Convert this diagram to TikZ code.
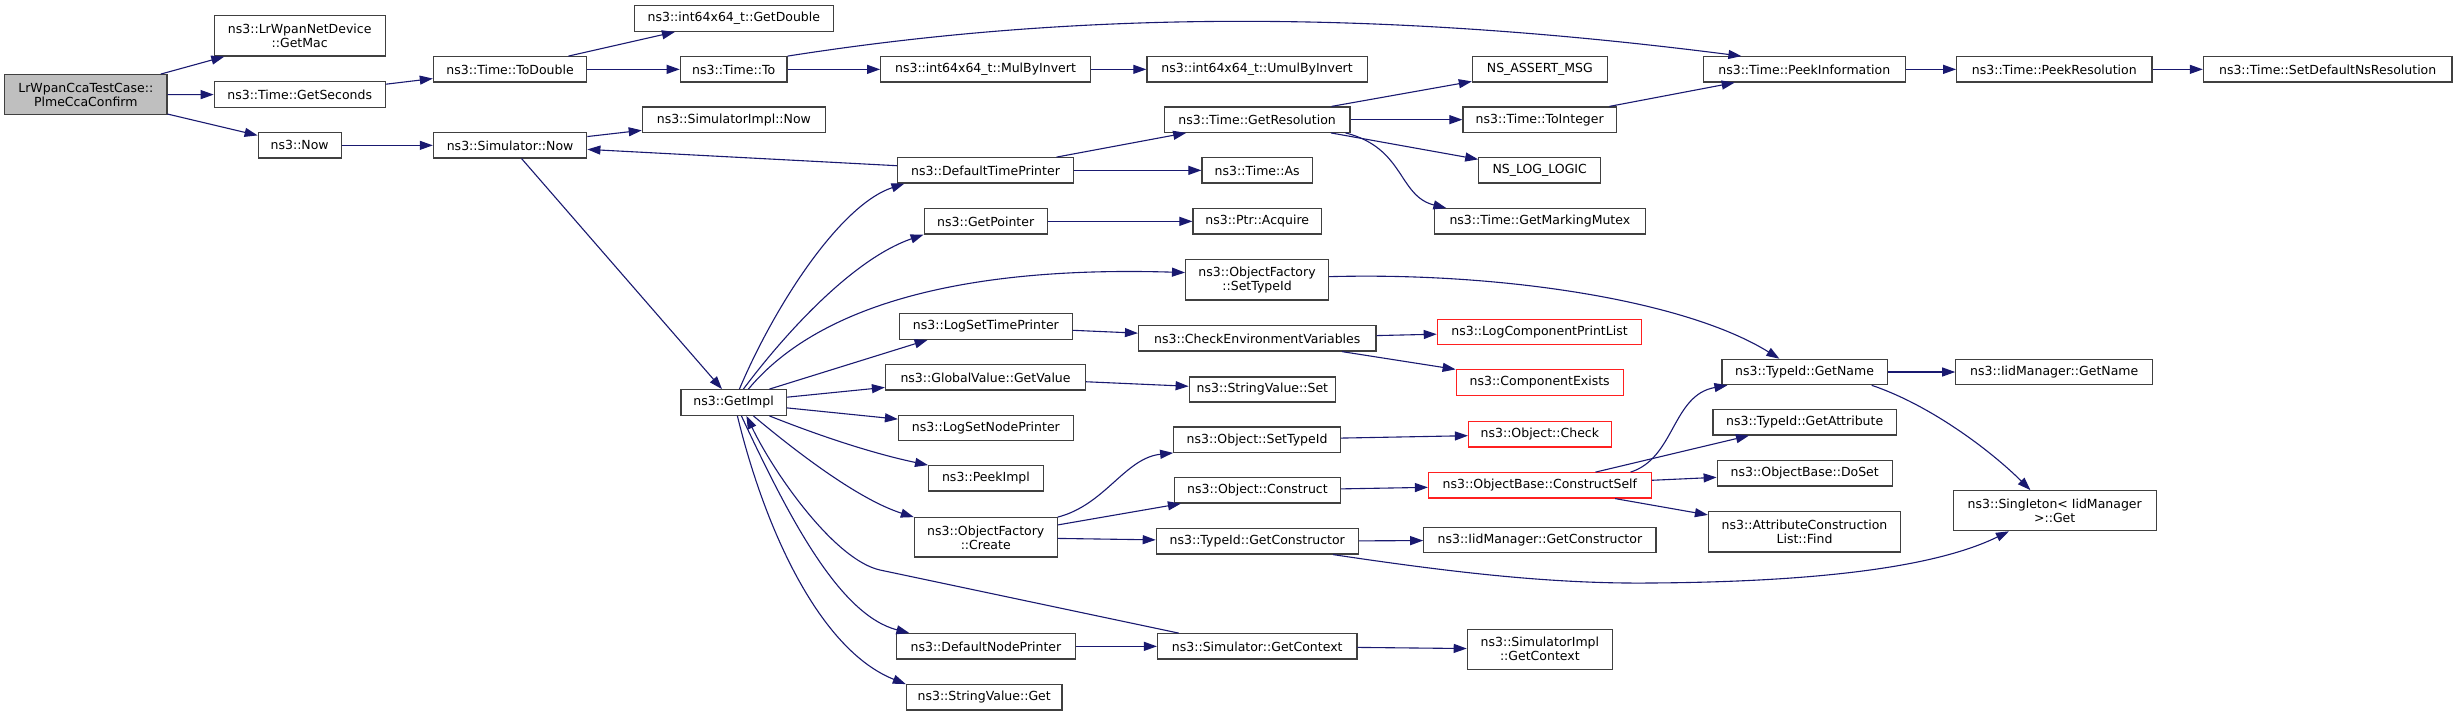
\documentclass[tikz,border=0pt]{standalone}
\usepackage{fontspec}
\setmainfont{DejaVu Sans}
\usetikzlibrary{arrows.meta,calc}
\definecolor{edgeblue}{HTML}{191970}
\definecolor{boxgray}{HTML}{404040}
\definecolor{rootfill}{HTML}{BFBFBF}
\definecolor{boxred}{HTML}{FF2020}
\tikzset{
  box/.style={draw=boxgray, line width=1.2pt, fill=white, inner sep=0pt, align=center,
    font=\fontsize{12.5}{14}\selectfont, text=black},
  redbox/.style={draw=boxred},
  edge/.style={draw=edgeblue, line width=1.1pt, -{Triangle[length=13pt,width=9pt]}},
}
\newcommand\mkbox[7][]{\node[box,#1,minimum width={#4-#2},minimum height={#5-#3}] (#6) at ({(#2+#4)/2},{(#3+#5)/2}) {#7};}
\begin{document}
\begin{tikzpicture}[x=1pt,y=-1pt]
\useasboundingbox[fill=white] (0,0) rectangle (2457,716);
% nodes
\mkbox[fill=rootfill]{4.7}{74.7}{166.9}{114.7}{root}{LrWpanCcaTestCase::\\PlmeCcaConfirm}
\mkbox{214.3}{15.7}{385.1}{56}{getmac}{ns3::LrWpanNetDevice\\::GetMac}
\mkbox{214.3}{81.7}{385.1}{107.3}{getsec}{ns3::Time::GetSeconds}
\mkbox{258.2}{132.7}{341.2}{158}{now}{ns3::Now}
\mkbox{433.4}{56.7}{586.8}{82}{todouble}{ns3::Time::ToDouble}
\mkbox{433.4}{132.7}{586.8}{158}{simnow}{ns3::Simulator::Now}
\mkbox{634.4}{5.7}{833.3}{31.3}{getdouble}{ns3::int64x64\_t::GetDouble}
\mkbox{680.3}{56.7}{787}{82}{timeto}{ns3::Time::To}
\mkbox{880.7}{56.7}{1090.3}{82}{mulby}{ns3::int64x64\_t::MulByInvert}
\mkbox{1146.9}{56.7}{1367.3}{82}{umulby}{ns3::int64x64\_t::UmulByInvert}
\mkbox{642.3}{107}{825.4}{132.7}{simimplnow}{ns3::SimulatorImpl::Now}
\mkbox{897.4}{157.7}{1073.7}{183}{deftime}{ns3::DefaultTimePrinter}
\mkbox{924.2}{208.7}{1047.2}{234}{getpointer}{ns3::GetPointer}
\mkbox{899.7}{313.7}{1072.1}{339.3}{logsettime}{ns3::LogSetTimePrinter}
\mkbox{1185.6}{259.7}{1328.5}{300}{ofsettypeid}{ns3::ObjectFactory\\::SetTypeId}
\mkbox{1138.5}{325.7}{1376}{351}{checkenv}{ns3::CheckEnvironmentVariables}
\mkbox{1164.3}{107}{1349.9}{132.3}{getres}{ns3::Time::GetResolution}
\mkbox{1202}{157.7}{1312.3}{183}{timeas}{ns3::Time::As}
\mkbox{1193}{208.7}{1321.4}{234}{ptracq}{ns3::Ptr::Acquire}
\mkbox{1472.4}{56.7}{1607.3}{82}{nsassert}{NS\_ASSERT\_MSG}
\mkbox{1463}{107}{1616.4}{132.3}{tointeger}{ns3::Time::ToInteger}
\mkbox{1478.8}{157.7}{1600.6}{183}{nsloglogic}{NS\_LOG\_LOGIC}
\mkbox{1434.5}{208.7}{1645.2}{234}{markmutex}{ns3::Time::GetMarkingMutex}
\mkbox[redbox]{1437.3}{319.3}{1641.7}{344.3}{logcomp}{ns3::LogComponentPrintList}
\mkbox{1703.4}{56.7}{1905.2}{82}{peekinfo}{ns3::Time::PeekInformation}
\mkbox{1956.7}{56.7}{2151.9}{82}{peekres}{ns3::Time::PeekResolution}
\mkbox{2203.4}{56.7}{2451.9}{82}{setdefns}{ns3::Time::SetDefaultNsResolution}
\mkbox{681}{389.7}{786.2}{415.3}{getimpl}{ns3::GetImpl}
\mkbox{885.5}{364.7}{1085.6}{390}{getvalue}{ns3::GlobalValue::GetValue}
\mkbox{898.5}{415.3}{1073.3}{440.7}{logsetnode}{ns3::LogSetNodePrinter}
\mkbox{928.6}{465.7}{1043.3}{491}{peekimpl}{ns3::PeekImpl}
\mkbox{914.4}{517.7}{1057.1}{557}{ofcreate}{ns3::ObjectFactory\\::Create}
\mkbox{896.6}{633.7}{1075.3}{659}{defnode}{ns3::DefaultNodePrinter}
\mkbox{906.4}{684.7}{1062}{710}{strget}{ns3::StringValue::Get}
\mkbox{1189.2}{377}{1335.6}{402}{strset}{ns3::StringValue::Set}
\mkbox{1173.7}{427}{1340.4}{452.3}{objsettypeid}{ns3::Object::SetTypeId}
\mkbox{1174.5}{477.7}{1340.4}{503}{objconstruct}{ns3::Object::Construct}
\mkbox{1156.3}{528.7}{1358.2}{554}{getctor}{ns3::TypeId::GetConstructor}
\mkbox{1157.5}{633.7}{1357}{659}{simgetctx}{ns3::Simulator::GetContext}
\mkbox[redbox]{1456.2}{369.7}{1623.1}{395.3}{compexists}{ns3::ComponentExists}
\mkbox[redbox]{1468.5}{421.7}{1611.2}{447}{objcheck}{ns3::Object::Check}
\mkbox[redbox]{1428.5}{472.7}{1651.2}{498}{cself}{ns3::ObjectBase::ConstructSelf}
\mkbox{1423.8}{527.3}{1655.9}{552.7}{iidgetctor}{ns3::IidManager::GetConstructor}
\mkbox{1467.3}{629.3}{1612.4}{669.3}{simimplctx}{ns3::SimulatorImpl\\::GetContext}
\mkbox{1722}{359.3}{1887.1}{384.7}{tidgetname}{ns3::TypeId::GetName}
\mkbox{1712.9}{409.7}{1896.4}{435}{getattr}{ns3::TypeId::GetAttribute}
\mkbox{1717.2}{460.7}{1892.2}{486}{doset}{ns3::ObjectBase::DoSet}
\mkbox{1708.5}{511.7}{1900.5}{552}{attrfind}{ns3::AttributeConstruction\\List::Find}
\mkbox{1955.8}{359.3}{2152.7}{384.7}{iidgetname}{ns3::IidManager::GetName}
\mkbox{1953.3}{490.7}{2156.1}{530.7}{singleton}{ns3::Singleton< IidManager\\>::Get}
% straight edges
\draw[edge] (root) -- (getmac);
\draw[edge] (root) -- (getsec);
\draw[edge] (root) -- (now);
\draw[edge] (getsec) -- (todouble);
\draw[edge] (todouble) -- (getdouble);
\draw[edge] (todouble) -- (timeto);
\draw[edge] (timeto) -- (mulby);
\draw[edge] (mulby) -- (umulby);
\draw[edge] (now) -- (simnow);
\draw[edge] (simnow) -- (simimplnow);
\draw[edge] (simnow) -- (getimpl);
\draw[edge] (deftime) -- (simnow);
\draw[edge] (deftime) -- (getres);
\draw[edge] (deftime) -- (timeas);
\draw[edge] (getres) -- (nsassert);
\draw[edge] (getres) -- (tointeger);
\draw[edge] (getres) -- (nsloglogic);
\draw[edge] (tointeger) -- (peekinfo);
\draw[edge] (peekinfo) -- (peekres);
\draw[edge] (peekres) -- (setdefns);
\draw[edge] (getpointer) -- (ptracq);
\draw[edge] (logsettime) -- (checkenv);
\draw[edge] (checkenv) -- (logcomp);
\draw[edge] (checkenv) -- (compexists);
\draw[edge] (getimpl) -- (getvalue);
\draw[edge] (getvalue) -- (strset);
\draw[edge] (getimpl) -- (logsetnode);
\draw[edge] (ofcreate) -- (objconstruct);
\draw[edge] (ofcreate) -- (getctor);
\draw[edge] (objsettypeid) -- (objcheck);
\draw[edge] (objconstruct) -- (cself);
\draw[edge] (cself) -- (getattr);
\draw[edge] (cself) -- (doset);
\draw[edge] (cself) -- (attrfind);
\draw[edge] (tidgetname) -- (iidgetname);
\draw[edge] (getctor) -- (iidgetctor);
\draw[edge] (defnode) -- (simgetctx);
\draw[edge] (simgetctx) -- (simimplctx);
% curved / offset edges
\draw[edge] (timeto.north east) .. controls (1081,10) and (1381,10) .. ($(peekinfo.north west)+(38.6,0)$);
\draw[edge] ($(getres.south east)+(-5,0)$) .. controls (1405,148) and (1398,196) .. ($(markmutex.north west)+(12.5,0)$);
\draw[edge] ($(getimpl.north west)+(59,0)$) .. controls (775,305) and (840,205) .. ($(deftime.south west)+(7.6,0)$);
\draw[edge] ($(getimpl.north west)+(63,0)$) .. controls (780,340) and (850,260) .. (getpointer.south west);
\draw[edge] ($(getimpl.north west)+(68,0)$) .. controls (810,315) and (940,265) .. ($(ofsettypeid.west)+(0,-7.3)$);
\draw[edge] ($(ofsettypeid.east)+(0,-3.2)$) .. controls (1500,272) and (1685,300) .. ($(tidgetname.north west)+(58,0)$);
\draw[edge] ($(getimpl.north west)+(89,0)$) -- ($(logsettime.south west)+(28.5,0)$);
\draw[edge] ($(getimpl.south west)+(89,0)$) .. controls (830,440) and (880,455) .. (peekimpl.north west);
\draw[edge] ($(getimpl.south west)+(73,0)$) .. controls (800,455) and (860,500) .. (ofcreate.north west);
\draw[edge] (ofcreate.north east) .. controls (1105,505) and (1125,458) .. (objsettypeid.south west);
\draw[edge] ($(cself.north east)+(-21.2,0)$) .. controls (1675,458) and (1672,395) .. ($(tidgetname.south west)+(6,0)$);
\draw[edge] ($(tidgetname.south east)+(-16,0)$) .. controls (1930,405) and (1990,450) .. ($(singleton.north west)+(77.7,0)$);
\draw[edge] ($(getctor.south east)+(-25.7,0)$) .. controls (1450,572) and (1550,584) .. (1650,583) .. controls (1800,582) and (1930,570) .. ($(singleton.south west)+(56.2,0)$);
\draw[edge] ($(getimpl.south west)+(61,0)$) .. controls (790,520) and (840,615) .. ($(defnode.north west)+(13.4,0)$);
\draw[edge] ($(simgetctx.north west)+(21.8,0)$) -- (880,570) .. controls (835,560) and (775,475) .. ($(getimpl.south west)+(66,0)$);
\draw[edge] ($(getimpl.south west)+(57,0)$) .. controls (765,530) and (820,650) .. (strget.north west);
\end{tikzpicture}
\end{document}
